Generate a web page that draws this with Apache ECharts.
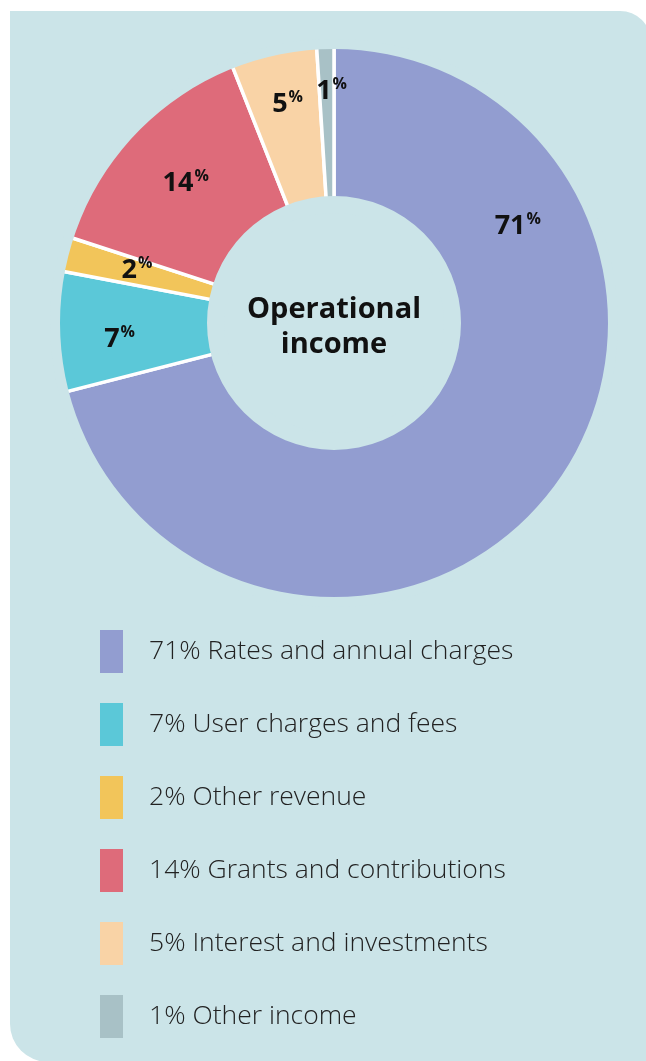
<!DOCTYPE html>
<html>
<head>
<meta charset="utf-8">
<script src="https://cdn.jsdelivr.net/npm/echarts@6/dist/echarts.min.js"></script>
<style>
  html, body { margin: 0; padding: 0; background: #ffffff; }
  #chart { width: 646px; height: 1061px; }
</style>
</head>
<body>
<div id="chart"></div>
<script>
// Operational income breakdown (percent of total)
const categories = [
  'Rates and annual charges',
  'User charges and fees',
  'Other revenue',
  'Grants and contributions',
  'Interest and investments',
  'Other income'
];
const shares = [71, 7, 2, 14, 5, 1];
const colors = ['#929dd0', '#5bc8d8', '#f2c55a', '#de6b7a', '#f9d3a6', '#a8c1c6'];
// label nudges from the middle of each ring segment
const labelOffsets = [[23, -221], [-11, 10], [0, -2], [0, 0], [-2, -20], [4, -28]];

const PANEL = '#cbe4e8';
const CENTER = [334, 323];
const chart = echarts.init(document.getElementById('chart'), null, { renderer: 'canvas' });
const FONT = '"Open Sans", "Noto Sans", sans-serif';

const data = categories.map((name, i) => ({
  name: name,
  value: shares[i],
  itemStyle: { color: colors[i] },
  label: { offset: labelOffsets[i] }
}));

// plain panel-coloured ring used to hide the white stroke on the curved edges,
// so only the radial separators between segments stay white
function maskRing(radius) {
  return {
    type: 'pie',
    z: 3,
    silent: true,
    center: CENTER,
    radius: radius,
    label: { show: false },
    labelLine: { show: false },
    emphasis: { disabled: true },
    itemStyle: { color: PANEL, borderWidth: 0 },
    data: [{ value: 1, name: 'mask' }]
  };
}

chart.setOption({
  animation: false,
  graphic: [{
    type: 'rect',
    z: -10,
    silent: true,
    shape: { x: 10, y: 11, width: 641, height: 1051, r: [0, 31, 0, 38] },
    style: { fill: PANEL }
  }, {
    type: 'text',
    z: 10,
    x: 334,
    y: 327,
    silent: true,
    style: {
      text: 'Operational\nincome',
      x: 0, y: 0,
      align: 'center',
      verticalAlign: 'middle',
      font: 'bold 29px ' + FONT,
      lineHeight: 35,
      fill: '#111111'
    }
  }],
  legend: {
    data: categories,
    orient: 'vertical',
    left: 100,
    top: 630,
    padding: 0,
    icon: 'rect',
    itemWidth: 23,
    itemHeight: 43,
    itemGap: 30,
    selectedMode: false,
    itemStyle: { borderWidth: 0 },
    formatter: function (name) {
      return shares[categories.indexOf(name)] + '% ' + name;
    },
    textStyle: {
      fontFamily: FONT,
      fontWeight: 300,
      fontSize: 26.5,
      color: '#222222',
      padding: [0, 0, 0, 21]
    }
  },
  series: [{
    type: 'pie',
    z: 2,
    center: CENTER,
    radius: [122, 279],
    startAngle: 90,
    clockwise: true,
    avoidLabelOverlap: false,
    itemStyle: { borderColor: '#ffffff', borderWidth: 3.5 },
    label: {
      show: true,
      position: 'inside',
      formatter: function (p) { return '{v|' + p.value + '}{p|%}'; },
      rich: {
        v: { fontFamily: FONT, fontWeight: 'bold', fontSize: 27, color: '#111111', lineHeight: 30 },
        p: { fontFamily: FONT, fontWeight: 'bold', fontSize: 16, color: '#111111', verticalAlign: 'top', padding: [0, 0, 12, 1], lineHeight: 30 }
      }
    },
    labelLine: { show: false },
    emphasis: { disabled: true },
    data: data
  },
  maskRing([274, 284]),
  maskRing([110, 127])]
});
</script>
</body>
</html>
